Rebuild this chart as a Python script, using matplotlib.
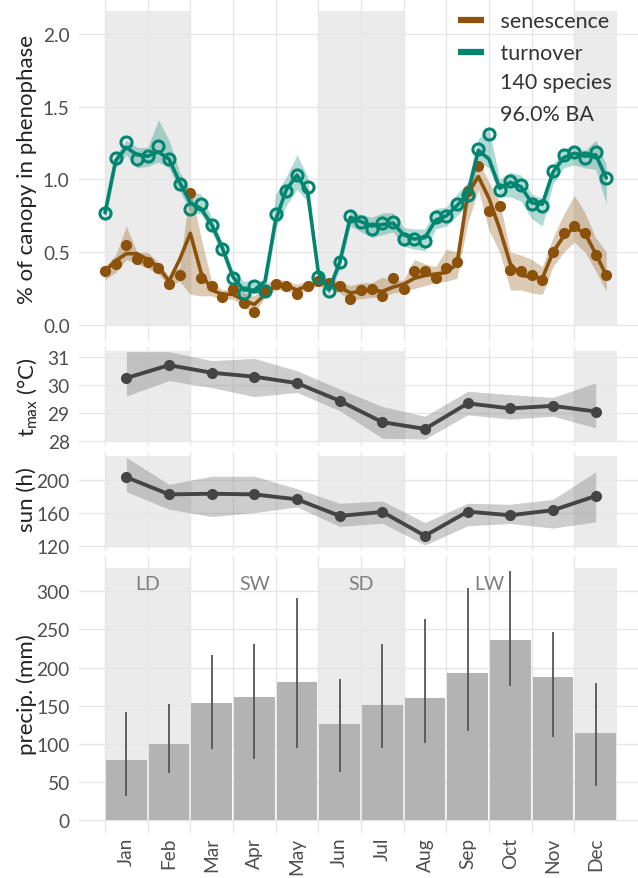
import matplotlib
matplotlib.use("Agg")
import matplotlib.pyplot as plt
from matplotlib.lines import Line2D
import numpy as np

plt.rcParams['font.family'] = ['Lato', 'DejaVu Sans']
plt.rcParams['mathtext.fontset'] = 'custom'
plt.rcParams['mathtext.rm'] = 'Lato'
plt.rcParams['mathtext.it'] = 'Lato:italic'

months = ['Jan', 'Feb', 'Mar', 'Apr', 'May', 'Jun',
          'Jul', 'Aug', 'Sep', 'Oct', 'Nov', 'Dec']

# seasons (in months from 1 Jan)
season_names = ['LD', 'SW', 'SD', 'LW', 'LD']
season_start = [0, 2, 5, 7, 11]
season_end = [2, 5, 7, 11, 12]

# weekly canopy phenophase (% of canopy), 4 weeks per month
week = np.arange(48)

turnover_pts = [0.77, 1.15, 1.26, 1.14, 1.16, 1.23, 1.14, 0.97, 0.80, 0.83, 0.69, 0.52,
                0.32, 0.22, 0.27, 0.23, 0.76, 0.92, 1.03, 0.95, 0.33, 0.23, 0.43, 0.75,
                0.71, 0.66, 0.70, 0.71, 0.59, 0.59, 0.58, 0.74, 0.75, 0.83, 0.89, 1.21,
                1.31, 0.93, 0.99, 0.96, 0.83, 0.82, 1.06, 1.17, 1.19, 1.15, 1.19, 1.01]
turnover_fit = [0.77, 1.13, 1.22, 1.17, 1.16, 1.19, 1.14, 0.98, 0.84, 0.80, 0.69, 0.53,
                0.33, 0.24, 0.24, 0.30, 0.72, 0.93, 1.03, 0.91, 0.36, 0.24, 0.43, 0.74,
                0.71, 0.68, 0.69, 0.70, 0.62, 0.59, 0.60, 0.72, 0.75, 0.82, 0.90, 1.20,
                1.14, 0.94, 0.98, 0.95, 0.84, 0.83, 1.05, 1.15, 1.18, 1.16, 1.17, 1.01]
turnover_lo = [0.70, 1.08, 1.17, 1.08, 1.09, 1.12, 1.08, 0.92, 0.78, 0.76, 0.64, 0.48,
               0.29, 0.19, 0.22, 0.22, 0.66, 0.82, 0.93, 0.85, 0.30, 0.21, 0.38, 0.68,
               0.64, 0.60, 0.62, 0.64, 0.54, 0.52, 0.51, 0.66, 0.68, 0.75, 0.82, 1.12,
               1.08, 0.88, 0.88, 0.85, 0.73, 0.68, 0.97, 1.08, 1.10, 1.08, 1.07, 0.83]
turnover_hi = [0.80, 1.17, 1.27, 1.22, 1.22, 1.41, 1.27, 1.05, 0.92, 0.90, 0.74, 0.57,
               0.37, 0.30, 0.31, 0.30, 0.90, 1.02, 1.17, 1.02, 0.38, 0.28, 0.48, 0.78,
               0.76, 0.74, 0.77, 0.77, 0.67, 0.66, 0.66, 0.80, 0.81, 0.90, 0.98, 1.28,
               1.35, 1.00, 1.05, 1.03, 0.90, 0.87, 1.10, 1.21, 1.22, 1.20, 1.27, 1.10]

senescence_pts = [0.37, 0.42, 0.55, 0.45, 0.43, 0.39, 0.28, 0.34, 0.91, 0.32, 0.27, 0.19,
                  0.25, 0.15, 0.09, 0.23, 0.28, 0.27, 0.21, 0.27, 0.30, 0.29, 0.27, 0.18,
                  0.24, 0.25, 0.20, 0.32, 0.25, 0.37, 0.37, 0.32, 0.39, 0.43, 0.92, 1.09,
                  0.78, 0.82, 0.38, 0.37, 0.34, 0.31, 0.50, 0.63, 0.68, 0.63, 0.48, 0.34]
senescence_fit = [0.37, 0.44, 0.49, 0.49, 0.45, 0.40, 0.30, 0.45, 0.63, 0.36, 0.24, 0.21,
                  0.21, 0.17, 0.14, 0.21, 0.27, 0.27, 0.24, 0.27, 0.29, 0.29, 0.26, 0.22,
                  0.23, 0.24, 0.23, 0.26, 0.28, 0.32, 0.34, 0.35, 0.36, 0.42, 0.90, 1.02,
                  0.87, 0.66, 0.42, 0.34, 0.33, 0.32, 0.50, 0.61, 0.67, 0.63, 0.49, 0.34]
senescence_lo = [0.31, 0.36, 0.45, 0.42, 0.39, 0.35, 0.27, 0.30, 0.21, 0.20, 0.20, 0.17,
                 0.18, 0.12, 0.08, 0.19, 0.24, 0.24, 0.20, 0.24, 0.27, 0.25, 0.22, 0.17,
                 0.18, 0.19, 0.19, 0.22, 0.23, 0.25, 0.27, 0.29, 0.30, 0.32, 0.70, 0.93,
                 0.65, 0.50, 0.24, 0.24, 0.22, 0.21, 0.40, 0.50, 0.57, 0.50, 0.37, 0.23]
senescence_hi = [0.40, 0.48, 0.68, 0.50, 0.50, 0.43, 0.33, 0.40, 0.95, 0.60, 0.30, 0.24,
                 0.25, 0.22, 0.20, 0.28, 0.32, 0.30, 0.28, 0.30, 0.33, 0.32, 0.30, 0.27,
                 0.29, 0.29, 0.33, 0.30, 0.31, 0.45, 0.42, 0.40, 0.52, 0.50, 0.98, 1.13,
                 0.98, 0.85, 0.50, 0.48, 0.45, 0.40, 0.60, 0.76, 0.89, 0.77, 0.60, 0.50]

# monthly climate
tmax = [30.24, 30.70, 30.43, 30.29, 30.06, 29.43, 28.67, 28.43, 29.34, 29.16, 29.25, 29.05]
tmax_lo = [29.60, 30.15, 29.90, 29.58, 29.73, 29.08, 28.10, 28.07, 28.93, 28.78, 28.88, 28.47]
tmax_hi = [31.18, 31.18, 30.86, 30.94, 30.50, 29.85, 29.23, 28.88, 29.77, 29.65, 29.55, 30.07]

sun = [203.6, 182.7, 183.5, 182.7, 176.7, 156.6, 161.4, 132.5, 161.8, 157.4, 163.5, 180.7]
sun_lo = [186.0, 164.7, 155.8, 160.6, 167.5, 143.8, 147.8, 121.3, 144.6, 147.4, 141.8, 149.4]
sun_hi = [227.7, 194.8, 204.8, 204.8, 189.6, 171.9, 174.7, 148.6, 171.9, 170.7, 176.7, 210.0]

precip = [79.1, 99.7, 153.9, 160.9, 181.0, 125.5, 150.9, 160.0, 192.8, 235.7, 188.0, 113.7]
precip_lo = [31.9, 61.2, 92.7, 80.0, 94.4, 62.5, 94.0, 100.6, 117.2, 176.2, 109.3, 45.0]
precip_hi = [141.7, 151.7, 216.4, 231.3, 291.6, 184.5, 230.4, 264.1, 303.9, 326.2, 247.0, 179.3]

SEN = '#8c510a'
TURN = '#018571'
DARK = '#444444'
GRID = '#e6e6e6'
TICK = '#4d4d4d'

W, H = 638, 879
fig = plt.figure(figsize=(W / 100, H / 100), dpi=100)

L, R = 79.4, 642.6
xmid = np.arange(12) + 0.5
xweek = week / 4


def panel(top, bottom, ylim, yticks, ylabels, shade):
    ax = fig.add_axes([L / W, 1 - bottom / H, (R - L) / W, (bottom - top) / H])
    ax.set_xlim(-0.6, 12.6)
    ax.set_ylim(*ylim)
    for s in ax.spines.values():
        s.set_visible(False)
    ax.set_xticks(np.arange(12), minor=True)
    ax.set_xticks(xmid)
    ax.set_xticklabels([])
    ax.set_yticks(yticks)
    ax.set_yticklabels(ylabels)
    ax.tick_params(which='both', length=0)
    ax.tick_params(axis='y', labelsize=13.8, labelcolor=TICK, pad=7)
    ax.grid(which='minor', axis='x', color=GRID, lw=1.0, zorder=0)
    ax.grid(which='major', axis='y', color=GRID, lw=1.0, zorder=0)
    ax.set_axisbelow(True)
    # dry season shading
    for name, a, b in zip(season_names, season_start, season_end):
        if name.endswith('D'):
            ax.fill_between([a, b], shade[0], shade[1], color='#cccccc',
                            alpha=0.38, lw=0, zorder=0.5)
    return ax


# phenology
ax1 = panel(-2.5, 341.6, (-0.108, 2.258), [0, 0.5, 1, 1.5, 2],
            ['0.0', '0.5', '1.0', '1.5', '2.0'], (0, 2.16))
ax1.fill_between(xweek, senescence_lo, senescence_hi, color=SEN, alpha=0.3, lw=0, zorder=2)
ax1.fill_between(xweek, turnover_lo, turnover_hi, color=TURN, alpha=0.3, lw=0, zorder=2)
ax1.plot(xweek, senescence_fit, color=SEN, lw=2.6, zorder=3, solid_capstyle='round')
ax1.plot(xweek, senescence_pts, 'o', color=SEN, ms=7, zorder=4)
ax1.plot(xweek, turnover_fit, color=TURN, lw=2.6, zorder=5, solid_capstyle='round')
ax1.plot(xweek, turnover_pts, 'o', mfc='none', mec=TURN, mew=2.2, ms=8, zorder=6)

handles = [Line2D([], [], color=SEN, lw=4.5, solid_capstyle='butt'),
           Line2D([], [], color=TURN, lw=4.5, solid_capstyle='butt')]
fig.legend(handles, [' senescence', ' turnover'], loc='upper left',
           bbox_to_anchor=(439 / W, 1 + 7 / H), frameon=False, fontsize=15.5,
           handlelength=1.2, handletextpad=0.5, labelspacing=0.55,
           labelcolor='#333333')
fig.text(500 / W, 1 - 83 / H, '140 species', fontsize=15.5, color='#333333',
         ha='left', va='center')
fig.text(500 / W, 1 - 115 / H, '96.0% BA', fontsize=15.5, color='#333333',
         ha='left', va='center')

# max temperature
ax2 = panel(347.6, 446.5, (27.84, 31.36), [28, 29, 30, 31],
            ['28', '29', '30', '31'], (28.0, 31.2))
ax2.fill_between(xmid, tmax_lo, tmax_hi, color='#888888', alpha=0.42, lw=0, zorder=2)
ax2.plot(xmid, tmax, '-o', color=DARK, lw=2.8, ms=7, zorder=3)

# sunshine hours
ax3 = panel(452.7, 551.6, (114.5, 234.5), [120, 160, 200],
            ['120', '160', '200'], (120, 229))
ax3.fill_between(xmid, sun_lo, sun_hi, color='#888888', alpha=0.42, lw=0, zorder=2)
ax3.plot(xmid, sun, '-o', color=DARK, lw=2.8, ms=7, zorder=3)

# precipitation
ax4 = panel(556.5, 833.6, (-16.5, 347), np.arange(0, 301, 50),
            [str(v) for v in range(0, 301, 50)], (0, 330.7))
ax4.bar(xmid, precip, width=0.95, color='#b3b3b3', zorder=2)
ax4.vlines(xmid, precip_lo, precip_hi, color='#555555', lw=1.3, zorder=3)
for name, a, b in zip(season_names[:4], season_start, season_end):
    ax4.text((a + b) / 2, 310, name, ha='center', va='center', fontsize=14,
             color='#7f7f7f', zorder=4)
ax4.set_xticklabels(months, rotation=90, fontsize=13.8, color=TICK)
ax4.tick_params(axis='x', pad=3)

# axis titles
ylab = dict(rotation=90, ha='center', va='center', fontsize=16, color='#222222')
fig.text(27 / W, 1 - 170 / H, '% of canopy in phenophase', **ylab)
fig.text(27 / W, 1 - 397 / H, r'$\mathrm{t_{max}}$ (°C)', **ylab)
fig.text(27 / W, 1 - 500 / H, 'sun (h)', **ylab)
fig.text(27 / W, 1 - 695 / H, 'precip. (mm)', **ylab)

fig.savefig('out.png', dpi=100)
